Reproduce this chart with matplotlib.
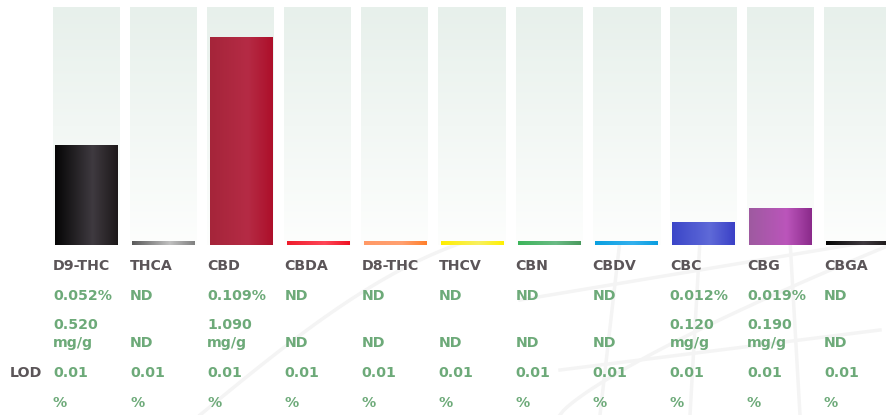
import matplotlib.pyplot as plt
import numpy as np
from matplotlib.colors import LinearSegmentedColormap

names = ["D9-THC", "THCA", "CBD", "CBDA", "D8-THC", "THCV", "CBN", "CBDV", "CBC", "CBG", "CBGA"]
pct = [0.052, 0, 0.109, 0, 0, 0, 0, 0, 0.012, 0.019, 0]
pct_txt = ["0.052%", "ND", "0.109%", "ND", "ND", "ND", "ND", "ND", "0.012%", "0.019%", "ND"]
mg_txt = ["0.520", "ND", "1.090", "ND", "ND", "ND", "ND", "ND", "0.120", "0.190", "ND"]
lod = ["0.01"] * 11

# horizontal gradient stops for each bar (left, middle, right)
bar_cols = [
    ["#050505", "#3f3a40", "#1c1819"],
    ["#5a5a5a", "#c0c0c0", "#808080"],
    ["#a5253a", "#b52b45", "#ad0f2a"],
    ["#ee1c2c", "#ff4657", "#ee1122"],
    ["#ff9966", "#ffa070", "#ff7f2a"],
    ["#ffee00", "#f8f060", "#fff000"],
    ["#3cb55a", "#6abb85", "#4a9a5e"],
    ["#0aa0e0", "#33b0ee", "#0a9ee0"],
    ["#3a45c8", "#5f6ad8", "#3a40c6"],
    ["#9e5aa0", "#bb55bb", "#8a2a8a"],
    ["#050505", "#3f3a40", "#1c1819"],
]

GRAY = "#5b5558"
GREEN = "#6daa79"
ymax = 0.125
min_h = 0.0021
pitch = 77.1

fig = plt.figure(figsize=(8.87, 4.15), dpi=100)

# faint decorative background lines
deco = fig.add_axes([0, 0, 1, 1], zorder=0)
deco.set_xlim(0, 887)
deco.set_ylim(415, 0)
deco.axis("off")
t = np.linspace(0, 1, 100)
lc = "#f4f4f4"
deco.plot(200 + 300 * t, 415 - 190 * np.sin(t * 1.3), color=lc, lw=2.5)
deco.plot(560 + 330 * t, 415 - 170 * t ** 0.8, color=lc, lw=2.5)
deco.plot(520 + 360 * t, 300 - 60 * t, color=lc, lw=2.5)
deco.plot(560 + 320 * t, 370 - 40 * t, color=lc, lw=2.5)
deco.plot(620 - 20 * t, 240 + 175 * t, color=lc, lw=2.5)
deco.plot(700 - 10 * t, 240 + 175 * t, color=lc, lw=2.5)
deco.plot(790 + 10 * t, 240 + 175 * t, color=lc, lw=2.5)

ax = fig.add_axes([53 / 887, (415 - 245) / 415, 834 / 887, 238 / 415], zorder=1)
ax.set_xlim(0, 834 / pitch)
ax.set_ylim(0, ymax)
ax.axis("off")

# panel background: vertical gradient
bg = LinearSegmentedColormap.from_list("bg", ["#fdfefd", "#e7f0eb"])
grad_v = np.linspace(0, 1, 256).reshape(-1, 1)
grad_h = np.linspace(0, 1, 256).reshape(1, -1)

pw = 67 / pitch
for i in range(len(names)):
    ax.imshow(grad_v, cmap=bg, origin="lower", aspect="auto",
              extent=[i, i + pw, 0, ymax], zorder=1)
    h = max(pct[i], min_h)
    cm = LinearSegmentedColormap.from_list("b%d" % i, [(0, bar_cols[i][0]), (0.6, bar_cols[i][1]), (1, bar_cols[i][2])])
    ax.imshow(grad_h, cmap=cm, aspect="auto",
              extent=[i + 0.03, i + pw - 0.03, 0, h], zorder=2)

ax.set_xlim(0, 834 / pitch)
ax.set_ylim(0, ymax)

def fy(py):
    return 1 - py / 415

fs = 10.2
for i in range(len(names)):
    x = (53 + i * pitch) / 887
    fig.text(x, fy(266), names[i], color=GRAY, fontsize=fs, fontweight="bold", va="center")
    fig.text(x, fy(296), pct_txt[i], color=GREEN, fontsize=fs, fontweight="bold", va="center")
    if mg_txt[i] == "ND":
        fig.text(x, fy(343), "ND", color=GREEN, fontsize=fs, fontweight="bold", va="center")
    else:
        fig.text(x, fy(325), mg_txt[i], color=GREEN, fontsize=fs, fontweight="bold", va="center")
        fig.text(x, fy(343), "mg/g", color=GREEN, fontsize=fs, fontweight="bold", va="center")
    fig.text(x, fy(373), lod[i], color=GREEN, fontsize=fs, fontweight="bold", va="center")
    fig.text(x, fy(403), "%", color=GREEN, fontsize=fs, fontweight="bold", va="center")

fig.text(10 / 887, fy(373), "LOD", color=GRAY, fontsize=fs, fontweight="bold", va="center")

plt.savefig("out.png", dpi=100)
